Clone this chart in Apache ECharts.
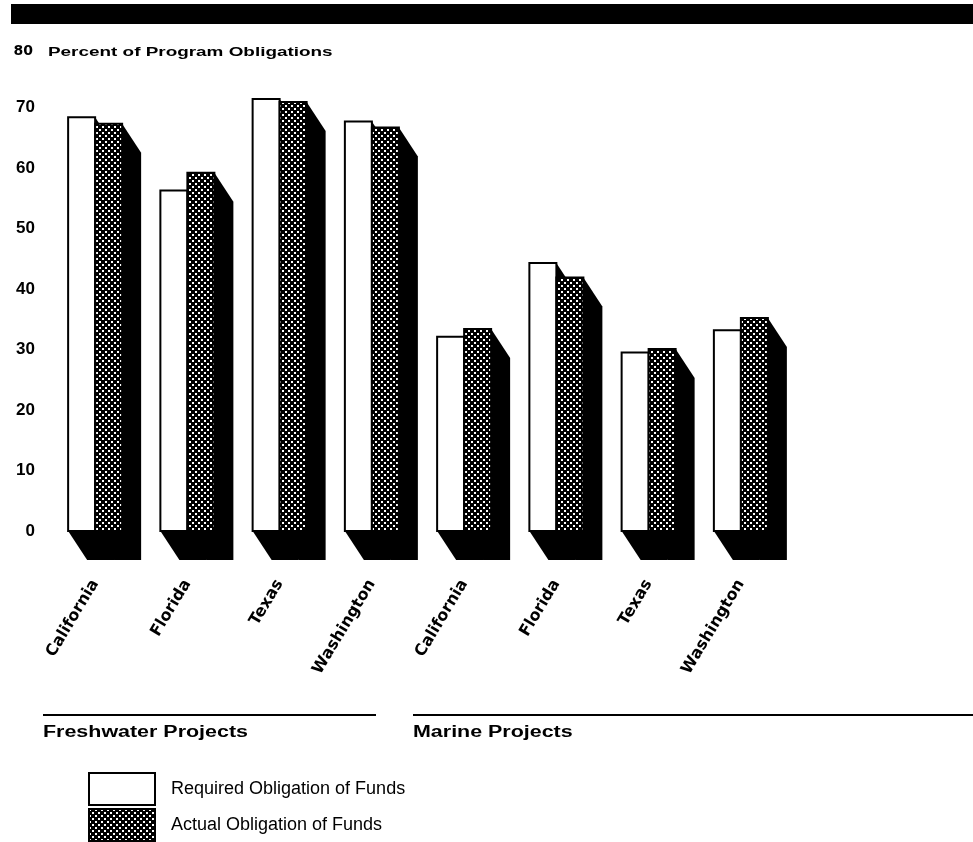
<!DOCTYPE html>
<html>
<head>
<meta charset="utf-8">
<title>Percent of Program Obligations</title>
<script src="https://cdn.jsdelivr.net/npm/echarts@6/dist/echarts.min.js"></script>
<style>
    html, body { margin: 0; padding: 0; background: #fff; }
    #main { width: 973px; height: 842px; }
</style>
</head>
<body>
<div id="main"></div>
<script>
    // states along the x axis (freshwater first, then marine)
    const states = ['California', 'Florida', 'Texas', 'Washington', 'California', 'Florida', 'Texas', 'Washington'];
    const required = [68.4, 56.3, 71.4, 67.7, 32.1, 44.3, 29.5, 33.2];
    const actual = [67.3, 59.2, 70.9, 66.7, 33.4, 41.9, 30.1, 35.2];
    const yTicks = [0, 10, 20, 30, 40, 50, 60, 70, 80];
    const seriesNames = ['Required Obligation of Funds', 'Actual Obligation of Funds'];
    const groupNames = ['Freshwater Projects', 'Marine Projects'];

    const barW = 27;
    const depthX = 19, depthY = 29;

    // dotted dark fill for the actual bars
    function makeDots() {
        const c = document.createElement('canvas');
        c.width = 6;
        c.height = 6;
        const ctx = c.getContext('2d');
        ctx.fillStyle = '#000';
        ctx.fillRect(0, 0, 6, 6);
        ctx.fillStyle = '#fff';
        ctx.fillRect(0, 0, 2, 2);
        ctx.fillRect(3, 3, 2, 2);
        return c;
    }
    const dots = { image: makeDots(), repeat: 'repeat' };

    function barRenderer(side, fill) {
        return function (params, api) {
            const idx = api.value(0);
            const top = api.coord([idx, api.value(1)]);
            const base = api.coord([idx, 0]);
            const x0 = side === 0 ? top[0] - barW : top[0];
            const x1 = x0 + barW;
            const y0 = top[1], y1 = base[1];
            return {
                type: 'group',
                children: [
                    {
                        type: 'polygon',
                        shape: {
                            points: [
                                [x0, y0], [x1, y0], [x1 + depthX, y0 + depthY],
                                [x1 + depthX, y1 + depthY], [x0 + depthX, y1 + depthY], [x0, y1]
                            ]
                        },
                        style: { fill: '#000' }
                    },
                    {
                        type: 'rect',
                        shape: { x: x0, y: y0, width: barW, height: y1 - y0 },
                        style: { fill: fill, stroke: '#000', lineWidth: 2 }
                    }
                ]
            };
        };
    }

    function legendRow(name, top, style) {
        return {
            left: 88,
            top: top,
            padding: 0,
            itemWidth: 66,
            itemHeight: 32,
            icon: 'rect',
            selectedMode: false,
            textStyle: { fontFamily: 'Liberation Sans', fontSize: 18, color: '#000', padding: [0, 0, 0, 11] },
            data: [{ name: name, itemStyle: style }]
        };
    }

    const myChart = echarts.init(document.getElementById('main'));
    const option = {
        animation: false,
        backgroundColor: '#fff',
        grid: { left: 49, top: 47, width: 738, height: 484, outerBoundsMode: 'none' },
        legend: [
            legendRow(seriesNames[0], 772, { color: '#fff', borderColor: '#000', borderWidth: 2 }),
            legendRow(seriesNames[1], 808, { color: dots, borderColor: '#000', borderWidth: 2 })
        ],
        xAxis: {
            type: 'category',
            data: states,
            axisLine: { show: false },
            axisTick: { show: false },
            axisLabel: {
                interval: 0,
                rotate: 59,
                margin: 50,
                color: '#000',
                fontFamily: 'DejaVu Sans',
                fontWeight: 'bold',
                fontSize: 16
            }
        },
        yAxis: {
            type: 'value',
            min: yTicks[0],
            max: yTicks[yTicks.length - 1],
            interval: 10,
            axisLine: { show: false },
            axisTick: { show: false },
            splitLine: { show: false },
            axisLabel: {
                margin: 14,
                formatter: function (v) {
                    return v === 80 ? '{t|' + v + '}' : '{n|' + v + '}';
                },
                rich: {
                    n: { fontFamily: 'Liberation Sans', fontWeight: 'bold', fontSize: 17, color: '#000' },
                    t: { fontFamily: 'DejaVu Sans', fontWeight: 'bold', fontSize: 14, color: '#000', padding: [9, 2, 0, 0] }
                }
            }
        },
        series: [
            {
                name: seriesNames[0],
                type: 'custom',
                itemStyle: { color: '#fff', borderColor: '#000', borderWidth: 2 },
                renderItem: barRenderer(0, '#fff'),
                encode: { x: 0, y: 1 },
                data: required.map((v, i) => [i, v])
            },
            {
                name: seriesNames[1],
                type: 'custom',
                itemStyle: { color: dots, borderColor: '#000', borderWidth: 2 },
                renderItem: barRenderer(1, dots),
                encode: { x: 0, y: 1 },
                data: actual.map((v, i) => [i, v])
            }
        ],
        graphic: [
            { type: 'rect', shape: { x: 11, y: 4, width: 962, height: 20 }, style: { fill: '#000' } },
            {
                type: 'text', x: 48, y: 52, scaleX: 1.4,
                style: { text: 'Percent of Program Obligations', font: 'bold 13.5px "Liberation Sans"', fill: '#000', textVerticalAlign: 'middle' }
            },
            { type: 'line', shape: { x1: 43, y1: 715, x2: 376, y2: 715 }, style: { stroke: '#000', lineWidth: 2 } },
            { type: 'line', shape: { x1: 413, y1: 715, x2: 973, y2: 715 }, style: { stroke: '#000', lineWidth: 2 } },
            {
                type: 'text', x: 43, y: 733, scaleX: 1.34,
                style: { text: groupNames[0], font: 'bold 16px "Liberation Sans"', fill: '#000', textVerticalAlign: 'middle' }
            },
            {
                type: 'text', x: 413, y: 733, scaleX: 1.34,
                style: { text: groupNames[1], font: 'bold 16px "Liberation Sans"', fill: '#000', textVerticalAlign: 'middle' }
            }
        ]
    };
    myChart.setOption(option);
</script>
</body>
</html>
